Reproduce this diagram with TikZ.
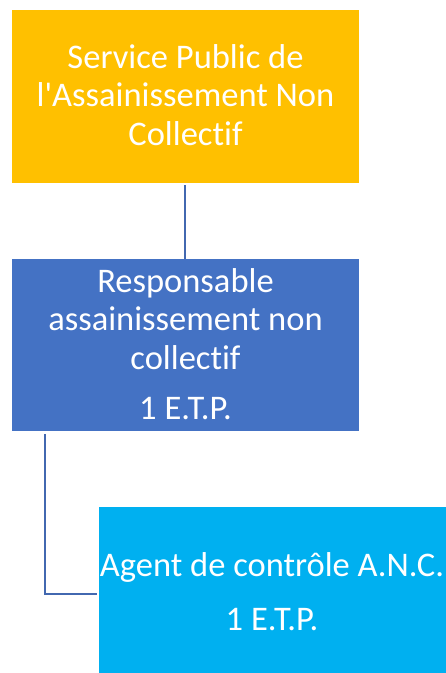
\documentclass[tikz,border=0pt]{standalone}
\usepackage{fontspec}
\setmainfont[Ligatures=NoCommon]{Carlito}
\definecolor{cOrange}{HTML}{FFC000}
\definecolor{cBlue}{HTML}{4472C4}
\definecolor{cCyan}{HTML}{00B0F0}
\definecolor{cLine}{HTML}{4268B0}
\begin{document}
\begin{tikzpicture}[x=1pt,y=-1pt,
  box/.style={inner sep=0pt, outer sep=0pt, text=white, align=center, anchor=base,
    font=\fontsize{34.5}{38.5}\selectfont},
  link/.style={draw=cLine, line width=2.2pt}]
\useasboundingbox (0,0) rectangle (446,673);
\fill[cOrange] (12,10) rectangle (359,183);
\fill[cBlue] (12,259) rectangle (359,431);
\fill[cCyan] (99,507) rectangle (446,673);
\node[box] (spanc) at (185.5,145) {Service Public de\\l\textquotesingle Assainissement Non\\Collectif};
\node[box] (resp) at (185.5,419.5) {Responsable\\assainissement non\\collectif\\[12pt]1 E.T.P.};
\node[box] (agent) at (272,630) {Agent de contrôle A.N.C.\\[15pt]1 E.T.P.};
\coordinate (a1) at (185,185);
\coordinate (a2) at (185,259);
\coordinate (b1) at (45,434);
\coordinate (b2) at (45,594);
\coordinate (b3) at (97,594);
\draw[link] (a1) -- (a2);
\draw[link] (b1) -- (b2) -- (b3);
\end{tikzpicture}
\end{document}
